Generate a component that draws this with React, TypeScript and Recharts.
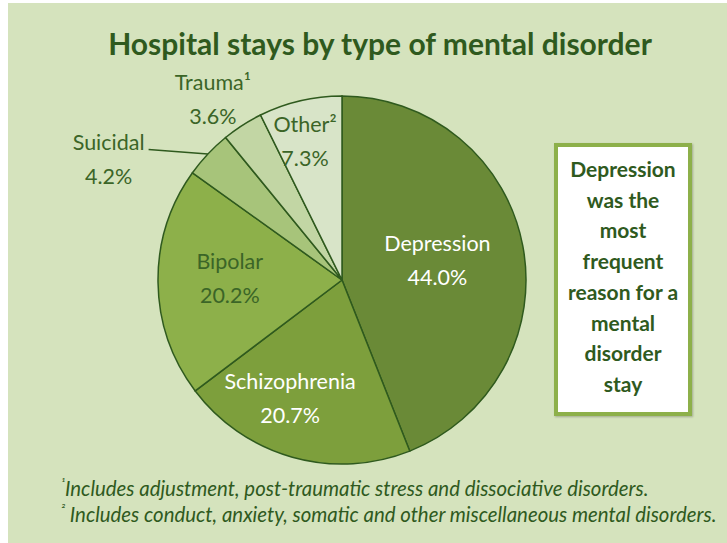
import { Pie, PieChart, Cell } from "recharts";

const categories = ["Depression", "Schizophrenia", "Bipolar", "Suicidal", "Trauma¹", "Other²"];
const shares = [44.0, 20.7, 20.2, 4.2, 3.6, 7.3];
const sliceColors = ["#6a8a37", "#7d9f3c", "#8db04a", "#a7c47a", "#c2d6a4", "#d8e4c8"];
const calloutLines = [
  "Depression",
  "was the",
  "most",
  "frequent",
  "reason for a",
  "mental",
  "disorder",
  "stay",
];
const footnotes = [
  { mark: "¹", text: "Includes adjustment, post-traumatic stress and dissociative disorders." },
  { mark: "²", text: " Includes conduct, anxiety, somatic and other miscellaneous mental disorders." },
];

const data = categories.map((name, i) => ({ name, value: shares[i] }));

const DARK = "#2f5a1e";
const LABEL = "#3b6527";
const FONT = "Lato, 'Open Sans', sans-serif";
const RAD = Math.PI / 180;

// label placement per slice: radius as fraction of outer radius, angle tweak
const labelPos: Record<string, { r: number; da: number; color: string }> = {
  Depression: { r: 0.53, da: 1.1, color: "#ffffff" },
  Schizophrenia: { r: 0.7, da: -8.1, color: "#ffffff" },
  Bipolar: { r: 0.61, da: -1.7, color: LABEL },
  Suicidal: { r: 1.43, da: 15.7, color: LABEL },
  "Trauma¹": { r: 1.21, da: 2.7, color: LABEL },
  "Other²": { r: 0.78, da: 1.8, color: LABEL },
};

function renderLabel(props: any) {
  const { cx, cy, midAngle, outerRadius, name, value } = props;
  const cfg = labelPos[name];
  const a = (midAngle + cfg.da) * RAD;
  const r = outerRadius * cfg.r;
  const x = cx + r * Math.cos(a);
  const y = cy - r * Math.sin(a);
  let leader = null;
  if (name === "Suicidal") {
    const ex = cx + outerRadius * Math.cos(midAngle * RAD);
    const ey = cy - outerRadius * Math.sin(midAngle * RAD);
    leader = (
      <line x1={x + 40} y1={y - 9} x2={ex} y2={ey} stroke={DARK} strokeWidth={1.5} />
    );
  }
  return (
    <g>
      {leader}
      <text
        x={x}
        y={y - 17}
        textAnchor="middle"
        dominantBaseline="central"
        fill={cfg.color}
        fontFamily={FONT}
        fontSize={21.5}
      >
        {name}
      </text>
      <text
        x={x}
        y={y + 17}
        textAnchor="middle"
        dominantBaseline="central"
        fill={cfg.color}
        fontFamily={FONT}
        fontSize={21.5}
      >
        {value.toFixed(1)}%
      </text>
    </g>
  );
}

export default function App() {
  return (
    <div
      style={{
        position: "absolute",
        left: 8,
        top: 3,
        width: 719,
        height: 540,
        background: "#d5e3bd",
        fontFamily: FONT,
      }}
    >
      <div
        style={{
          position: "absolute",
          left: 0,
          width: 744,
          top: 22,
          textAlign: "center",
          fontSize: 30,
          fontWeight: 700,
          color: DARK,
        }}
      >
        Hospital stays by type of mental disorder
      </div>

      <PieChart
        width={719}
        height={540}
        margin={{ top: 0, right: 0, bottom: 0, left: 0 }}
        style={{ position: "absolute", left: 0, top: 0 }}
      >
        <Pie
          data={data}
          dataKey="value"
          nameKey="name"
          cx={334}
          cy={277}
          outerRadius={184}
          startAngle={90}
          endAngle={-270}
          stroke={DARK}
          strokeWidth={1.5}
          label={renderLabel}
          labelLine={false}
          isAnimationActive={false}
        >
          {data.map((d, i) => (
            <Cell key={d.name} fill={sliceColors[i]} />
          ))}
        </Pie>
      </PieChart>

      <div
        style={{
          position: "absolute",
          left: 546,
          top: 140,
          width: 130,
          height: 258,
          background: "#ffffff",
          border: "4px solid #8db04a",
          boxShadow: "1px 1px 2px rgba(0,0,0,0.25)",
          textAlign: "center",
          color: DARK,
          fontWeight: 700,
          fontSize: 21,
          lineHeight: "30.7px",
          paddingTop: 7,
          boxSizing: "content-box",
          whiteSpace: "nowrap",
        }}
      >
        {calloutLines.map((l) => (
          <div key={l}>{l}</div>
        ))}
      </div>

      <div
        style={{
          position: "absolute",
          left: 53,
          top: 472,
          color: DARK,
          fontStyle: "italic",
          fontSize: 20.4,
          lineHeight: "26px",
          whiteSpace: "nowrap",
        }}
      >
        {footnotes.map((f) => (
          <div key={f.mark}>
            <span style={{ fontSize: 12, verticalAlign: "super", lineHeight: 0 }}>{f.mark}</span>
            {f.text}
          </div>
        ))}
      </div>
    </div>
  );
}
